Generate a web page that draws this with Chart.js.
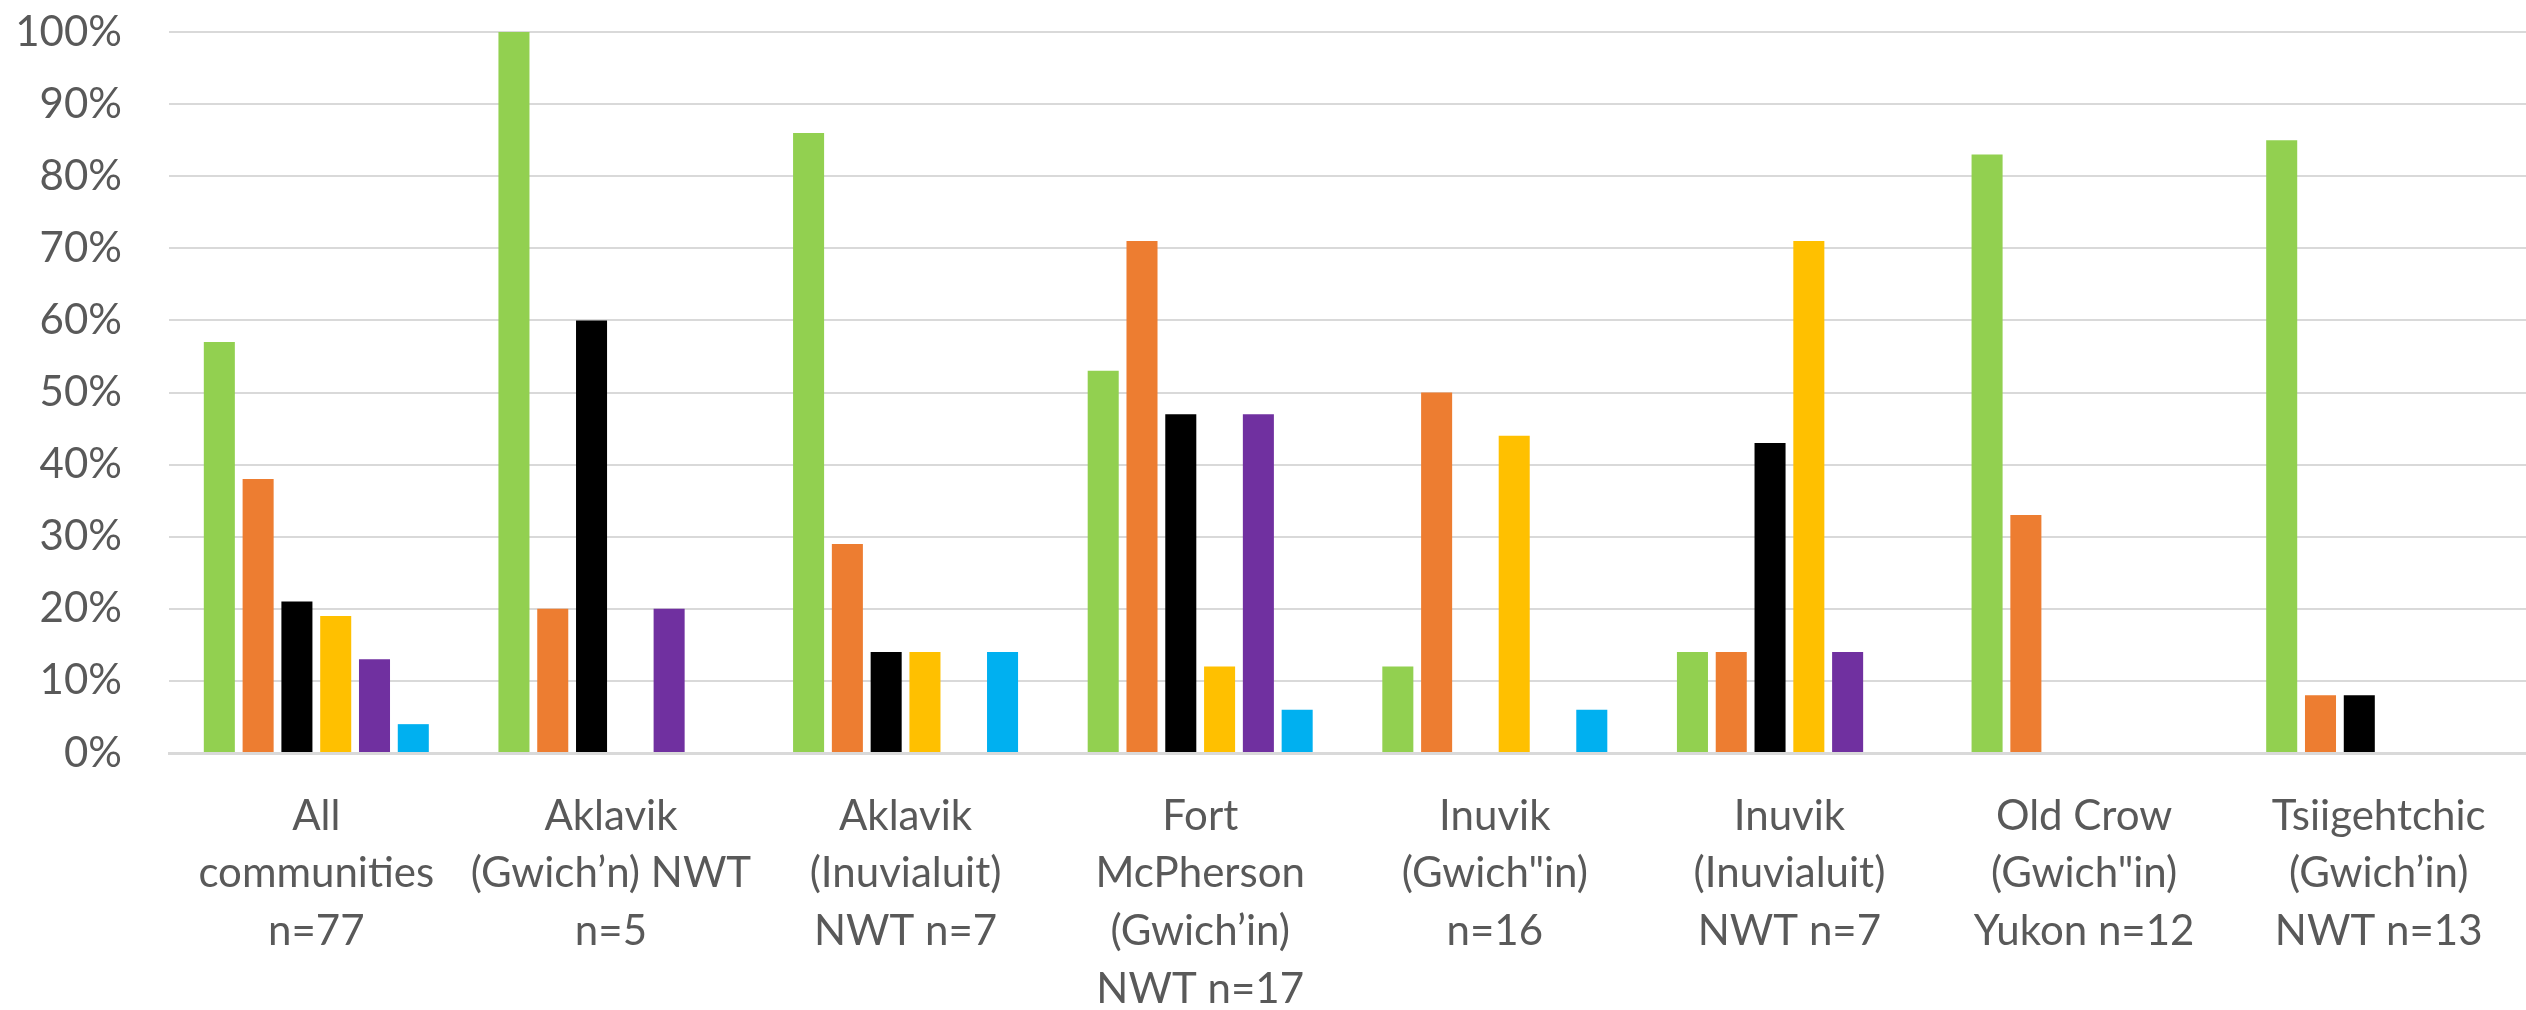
<!DOCTYPE html>
<html>
<head>
<meta charset="utf-8">
<script src="https://cdn.jsdelivr.net/npm/chart.js@4"></script>
<style>
html,body{margin:0;padding:0;background:#fff;}
#wrap{width:2526px;height:1010px;position:relative;}
</style>
</head>
<body>
<div id="wrap"><canvas id="c"></canvas></div>
<script>
const categories = [
  ["All","communities","n=77"],
  ["Aklavik","(Gwich\u2019n) NWT","n=5"],
  ["Aklavik","(Inuvialuit)","NWT n=7"],
  ["Fort","McPherson","(Gwich\u2019in)","NWT n=17"],
  ["Inuvik","(Gwich\"in)","n=16"],
  ["Inuvik","(Inuvialuit)","NWT n=7"],
  ["Old Crow","(Gwich\"in)","Yukon n=12"],
  ["Tsiigehtchic","(Gwich\u2019in)","NWT n=13"]
];
const seriesGreen  = [57, 100, 86, 53, 12, 14, 83, 85];
const seriesOrange = [38, 20, 29, 71, 50, 14, 33, 8];
const seriesBlack  = [21, 60, 14, 47, null, 43, null, 8];
const seriesYellow = [19, null, 14, 12, 44, 71, null, null];
const seriesPurple = [13, 20, null, 47, null, 14, null, null];
const seriesBlue   = [4, null, 14, 6, 6, null, null, null];
const yTicks = [0,10,20,30,40,50,60,70,80,90,100];

const FONT = "Lato, 'Open Sans', sans-serif";
const mk = (label, data, color) => ({label, data, backgroundColor: color, borderWidth: 0,
  barPercentage: 0.8, categoryPercentage: 0.79});

new Chart(document.getElementById('c'), {
  type: 'bar',
  data: {
    labels: categories,
    datasets: [
      mk('Series 1', seriesGreen, '#92D050'),
      mk('Series 2', seriesOrange, '#ED7D31'),
      mk('Series 3', seriesBlack, '#000000'),
      mk('Series 4', seriesYellow, '#FFC000'),
      mk('Series 5', seriesPurple, '#7030A0'),
      mk('Series 6', seriesBlue, '#00B0F0')
    ]
  },
  options: {
    responsive: true,
    maintainAspectRatio: false,
    animation: false,
    layout: {padding: {top: 32, right: 0, left: 0, bottom: 0}},
    plugins: {legend: {display: false}, tooltip: {enabled: false}},
    scales: {
      x: {
        afterFit: s => { s.height = 257; s.paddingLeft = 0; s.paddingRight = 0; },
        grid: {display: false, drawTicks: false},
        border: {display: true, color: '#D9D9D9', width: 3},
        ticks: {color: '#595959', font: {family: FONT, size: 42, lineHeight: 1.38},
          padding: 34, maxRotation: 0, autoSkip: false}
      },
      y: {
        min: 0, max: 100,
        afterFit: s => { s.width = 169; s.paddingTop = 0; s.paddingBottom = 0; },
        afterBuildTicks: s => { s.ticks = yTicks.map(v => ({value: v})); },
        grid: {color: '#D9D9D9', lineWidth: 2, drawTicks: false},
        border: {display: false},
        ticks: {color: '#595959', font: {family: FONT, size: 42},
          padding: 47, callback: v => v + '%'}
      }
    }
  }
});
</script>
</body>
</html>
